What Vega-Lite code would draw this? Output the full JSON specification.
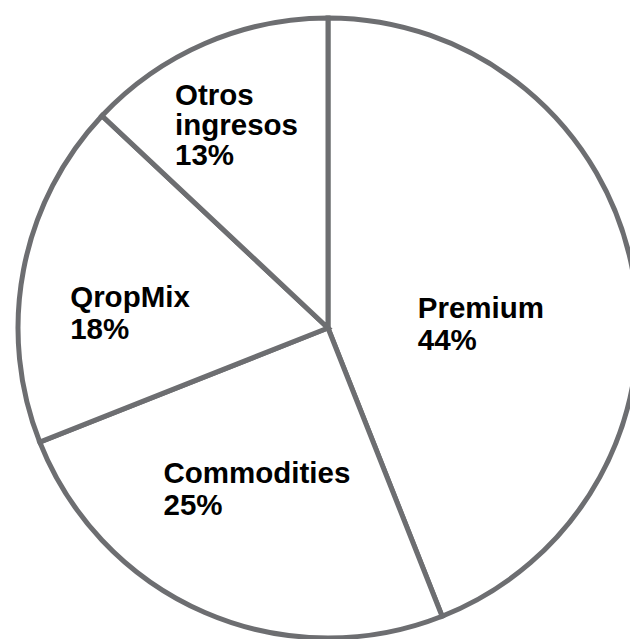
{
  "$schema": "https://vega.github.io/schema/vega-lite/v6.json",
  "width": 656,
  "height": 656,
  "autosize": {"type": "none"},
  "padding": 0,
  "background": "white",
  "config": {"view": {"stroke": null}},
  "data": {
    "values": [
      {"cat": "Premium", "pct": 44, "label": "Premium\n44%"},
      {"cat": "Commodities", "pct": 25, "label": "Commodities\n25%"},
      {"cat": "QropMix", "pct": 18, "label": "QropMix\n18%"},
      {"cat": "Otros ingresos", "pct": 13, "label": "Otros\ningresos\n13%"}
    ]
  },
  "encoding": {
    "theta": {"field": "pct", "type": "quantitative", "stack": true},
    "order": {"field": "pct", "type": "quantitative", "sort": "descending"}
  },
  "layer": [
    {
      "mark": {"type": "arc", "radius": 310, "fill": "white", "stroke": "#6d6e71", "strokeWidth": 5, "strokeJoin": "miter"}
    },
    {
      "mark": {"type": "text", "radius": 180, "align": "left", "baseline": "alphabetic", "font": "Liberation Sans", "fontWeight": "bold", "fontSize": 29.5, "lineHeight": 32, "lineBreak": "\n", "color": "#000000", "dx": -87, "dy": 24},
      "encoding": {"text": {"condition": {"test": "datum.cat === 'Premium'", "field": "label"}, "value": ""}}
    },
    {
      "mark": {"type": "text", "radius": 180, "align": "left", "baseline": "alphabetic", "font": "Liberation Sans", "fontWeight": "bold", "fontSize": 29.5, "lineHeight": 32, "lineBreak": "\n", "color": "#000000", "dx": -93, "dy": -10},
      "encoding": {"text": {"condition": {"test": "datum.cat === 'Commodities'", "field": "label"}, "value": ""}}
    },
    {
      "mark": {"type": "text", "radius": 180, "align": "left", "baseline": "alphabetic", "font": "Liberation Sans", "fontWeight": "bold", "fontSize": 29.5, "lineHeight": 32, "lineBreak": "\n", "color": "#000000", "dx": -81, "dy": 13},
      "encoding": {"text": {"condition": {"test": "datum.cat === 'QropMix'", "field": "label"}, "value": ""}}
    },
    {
      "mark": {"type": "text", "radius": 180, "align": "left", "baseline": "alphabetic", "font": "Liberation Sans", "fontWeight": "bold", "fontSize": 29.5, "lineHeight": 30, "lineBreak": "\n", "color": "#000000", "dx": -81.5, "dy": -58},
      "encoding": {"text": {"condition": {"test": "datum.cat === 'Otros ingresos'", "field": "label"}, "value": ""}}
    }
  ]
}
